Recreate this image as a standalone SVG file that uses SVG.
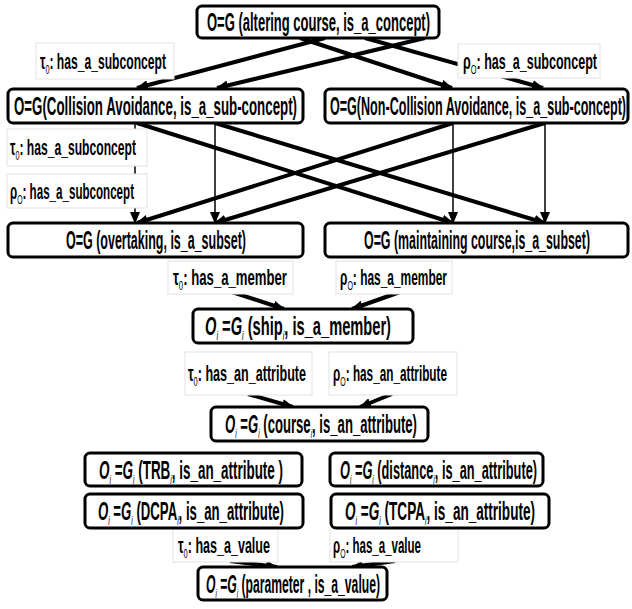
<svg xmlns="http://www.w3.org/2000/svg" width="632" height="609" viewBox="0 0 632 609">
<defs>
<marker id="ah" markerUnits="userSpaceOnUse" markerWidth="12" markerHeight="10" refX="11" refY="5" orient="auto">
<path d="M0,0 L12,5 L0,10 z" fill="#000"/>
</marker>
<style>
.node rect{fill:#fff;stroke:#000;stroke-width:3}
.lab rect{fill:#fff;stroke:#e2e2e2;stroke-width:1}
text{font-family:"Liberation Sans",Arial,sans-serif;fill:#000}
.nt{font-size:26px;font-weight:bold}
.lt{font-size:22px;font-weight:bold}
.it{font-style:italic}
.sb{font-size:13px;font-weight:normal}
.thick{stroke:#000;stroke-width:4;fill:none;marker-end:url(#ah)}
.thin{stroke:#000;stroke-width:1.5;fill:none;marker-end:url(#ah)}
</style>
</defs>
<rect width="632" height="609" fill="#fff"/>
<g id="connectors">
<path class="thick" d="M325,38 L137,88"/>
<path class="thick" d="M425,38 L217,88"/>
<path class="thick" d="M300,38 L452,88"/>
<path class="thick" d="M365,38 L543,88"/>
<path class="thin" d="M135,123 L135,223"/>
<path class="thin" d="M215,123 L215,223"/>
<path class="thin" d="M453,123 L453,223"/>
<path class="thin" d="M545,123 L545,223"/>
<path class="thick" d="M137,123 L453,223"/>
<path class="thick" d="M215,123 L545,223"/>
<path class="thick" d="M453,123 L137,223"/>
<path class="thick" d="M545,123 L215,223"/>
<path class="thick" d="M232,292 L284,309"/>
<path class="thick" d="M400,292 L352,309"/>
<path class="thick" d="M248,394 L293,407"/>
<path class="thick" d="M392,394 L360,407"/>
<path class="thick" d="M230,561 L277,567"/>
<path class="thick" d="M395,561 L352,567"/>
</g>
<g id="lab1" class="lab"><rect x="36" y="43" width="138" height="36"/><text class="lt" x="40" y="69" textLength="126" lengthAdjust="spacingAndGlyphs">τ<tspan class="sb" dy="5">0</tspan><tspan dy="-5">: has_a_subconcept</tspan></text></g>
<g id="lab2" class="lab"><rect x="458" y="44" width="142" height="34"/><text class="lt" x="463" y="69" textLength="134" lengthAdjust="spacingAndGlyphs">ρ<tspan class="sb" dy="5">O</tspan><tspan dy="-5">: has_a_subconcept</tspan></text></g>
<g id="lab3" class="lab"><rect x="7" y="129" width="140" height="37"/><text class="lt" x="10" y="155" textLength="126" lengthAdjust="spacingAndGlyphs">τ<tspan class="sb" dy="5">0</tspan><tspan dy="-5">: has_a_subconcept</tspan></text></g>
<g id="lab4" class="lab"><rect x="7" y="174" width="140" height="34"/><text class="lt" x="10" y="199" textLength="124" lengthAdjust="spacingAndGlyphs">ρ<tspan class="sb" dy="5">O</tspan><tspan dy="-5">: has_a_subconcept</tspan></text></g>
<g id="lab5" class="lab"><rect x="168" y="261" width="125" height="33"/><text class="lt" x="173" y="285" textLength="114" lengthAdjust="spacingAndGlyphs">τ<tspan class="sb" dy="5">0</tspan><tspan dy="-5">: has_a_member</tspan></text></g>
<g id="lab6" class="lab"><rect x="336" y="261" width="116" height="33"/><text class="lt" x="340" y="285" textLength="107" lengthAdjust="spacingAndGlyphs">ρ<tspan class="sb" dy="5">O</tspan><tspan dy="-5">: has_a_member</tspan></text></g>
<g id="lab7" class="lab"><rect x="185" y="352" width="127" height="43"/><text class="lt" x="188" y="381" textLength="118" lengthAdjust="spacingAndGlyphs">τ<tspan class="sb" dy="5">0</tspan><tspan dy="-5">: has_an_attribute</tspan></text></g>
<g id="lab8" class="lab"><rect x="329" y="352" width="128" height="43"/><text class="lt" x="333" y="381" textLength="114" lengthAdjust="spacingAndGlyphs">ρ<tspan class="sb" dy="5">O</tspan><tspan dy="-5">: has_an_attribute</tspan></text></g>
<g id="lab9" class="lab"><rect x="173" y="528" width="105" height="34"/><text class="lt" x="178" y="553" textLength="92" lengthAdjust="spacingAndGlyphs">τ<tspan class="sb" dy="5">0</tspan><tspan dy="-5">: has_a_value</tspan></text></g>
<g id="lab10" class="lab"><rect x="330" y="528" width="128" height="34"/><text class="lt" x="333" y="553" textLength="88" lengthAdjust="spacingAndGlyphs">ρ<tspan class="sb" dy="5">O</tspan><tspan dy="-5">: has_a_value</tspan></text></g>
<g id="n-altering" class="node"><rect x="197" y="6" width="242" height="32" rx="5"/><text class="nt" x="207" y="31" textLength="223" lengthAdjust="spacingAndGlyphs">O=G (altering course, is_a_concept)</text></g>
<g id="n-collision" class="node"><rect x="8" y="89" width="295" height="34" rx="5"/><text class="nt" x="14" y="115" textLength="283" lengthAdjust="spacingAndGlyphs">O=G(Collision Avoidance, is_a_sub-concept)</text></g>
<g id="n-noncollision" class="node"><rect x="325" y="89" width="303" height="34" rx="5"/><text class="nt" x="330" y="115" textLength="296" lengthAdjust="spacingAndGlyphs">O=G(Non-Collision Avoidance, is_a_sub-concept)</text></g>
<g id="n-overtaking" class="node"><rect x="8" y="223" width="295" height="34" rx="5"/><text class="nt" x="66" y="249" textLength="180" lengthAdjust="spacingAndGlyphs">O=G (overtaking, is_a_subset)</text></g>
<g id="n-maintaining" class="node"><rect x="325" y="223" width="303" height="34" rx="5"/><text class="nt" x="364" y="249" textLength="226" lengthAdjust="spacingAndGlyphs">O=G (maintaining course,is_a_subset)</text></g>
<g id="n-ship" class="node"><rect x="193" y="309" width="220" height="34" rx="5"/><text class="nt" x="205" y="335" textLength="186" lengthAdjust="spacingAndGlyphs"><tspan class="it">O</tspan><tspan class="it sb" dy="5">i</tspan><tspan dy="-5"> =</tspan><tspan class="it">G</tspan><tspan class="it sb" dy="5">i</tspan><tspan dy="-5"> (ship</tspan><tspan class="it sb" dy="5">i</tspan><tspan dy="-5">, is_a_member)</tspan></text></g>
<g id="n-course" class="node"><rect x="211" y="407" width="217" height="34" rx="5"/><text class="nt" x="225" y="433" textLength="192" lengthAdjust="spacingAndGlyphs"><tspan class="it">O</tspan><tspan class="it sb" dy="5">i</tspan><tspan dy="-5"> =</tspan><tspan class="it">G</tspan><tspan class="it sb" dy="5">i</tspan><tspan dy="-5"> (course</tspan><tspan class="it sb" dy="5">i</tspan><tspan dy="-5">, is_an_attribute)</tspan></text></g>
<g id="n-trb" class="node"><rect x="85" y="453" width="217" height="33" rx="5"/><text class="nt" x="99" y="479" textLength="184" lengthAdjust="spacingAndGlyphs"><tspan class="it">O</tspan><tspan class="it sb" dy="5">i</tspan><tspan dy="-5"> =</tspan><tspan class="it">G</tspan><tspan class="it sb" dy="5">i</tspan><tspan dy="-5"> (TRB</tspan><tspan class="it sb" dy="5">i</tspan><tspan dy="-5">, is_an_attribute )</tspan></text></g>
<g id="n-distance" class="node"><rect x="330" y="453" width="213" height="33" rx="5"/><text class="nt" x="340" y="479" textLength="197" lengthAdjust="spacingAndGlyphs"><tspan class="it">O</tspan><tspan class="it sb" dy="5">i</tspan><tspan dy="-5"> =</tspan><tspan class="it">G</tspan><tspan class="it sb" dy="5">i</tspan><tspan dy="-5"> (distance</tspan><tspan class="it sb" dy="5">i</tspan><tspan dy="-5">, is_an_attribute)</tspan></text></g>
<g id="n-dcpa" class="node"><rect x="85" y="494" width="218" height="34" rx="5"/><text class="nt" x="98" y="520" textLength="186" lengthAdjust="spacingAndGlyphs"><tspan class="it">O</tspan><tspan class="it sb" dy="5">i</tspan><tspan dy="-5"> =</tspan><tspan class="it">G</tspan><tspan class="it sb" dy="5">i</tspan><tspan dy="-5"> (DCPA</tspan><tspan class="it sb" dy="5">i</tspan><tspan dy="-5">, is_an_attribute)</tspan></text></g>
<g id="n-tcpa" class="node"><rect x="331" y="494" width="218" height="34" rx="5"/><text class="nt" x="345" y="520" textLength="190" lengthAdjust="spacingAndGlyphs"><tspan class="it">O</tspan><tspan class="it sb" dy="5">i</tspan><tspan dy="-5"> =</tspan><tspan class="it">G</tspan><tspan class="it sb" dy="5">i</tspan><tspan dy="-5"> (TCPA</tspan><tspan class="it sb" dy="5">i</tspan><tspan dy="-5">, is_an_attribute)</tspan></text></g>
<g id="n-parameter" class="node"><rect x="198" y="567" width="189" height="33" rx="5"/><text class="nt" x="206" y="593" textLength="174" lengthAdjust="spacingAndGlyphs"><tspan class="it">O</tspan><tspan class="it sb" dy="5">i</tspan><tspan dy="-5"> =</tspan><tspan class="it">G</tspan><tspan class="it sb" dy="5">i</tspan><tspan dy="-5"> (parameter , is_a_value)</tspan></text></g>
</svg>
